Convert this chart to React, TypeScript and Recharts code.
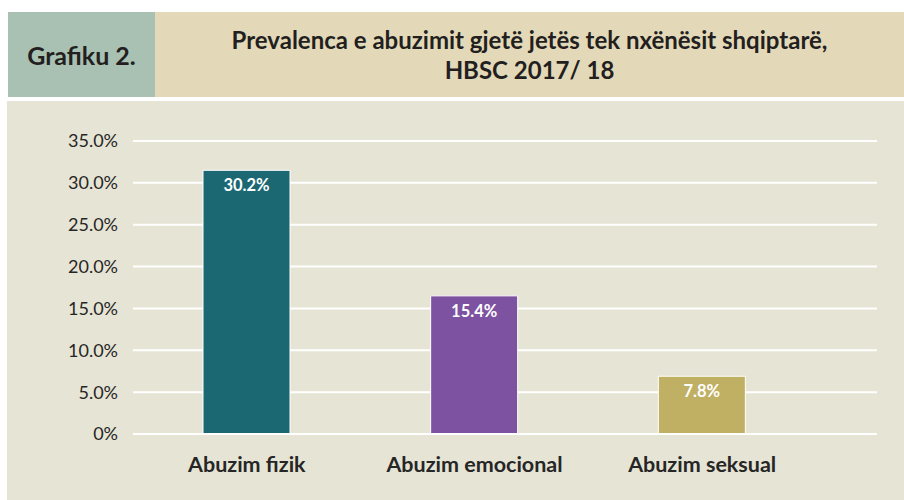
import React from 'react';
import { BarChart, Bar, XAxis, YAxis, CartesianGrid, LabelList, Cell } from 'recharts';

// categories + values
const categories = ['Abuzim fizik', 'Abuzim emocional', 'Abuzim seksual'];
const labelValues = [30.2, 15.4, 7.8];
// the source draws its bars a little off their own labels, so heights are measured separately
const drawnValues = [31.5, 16.5, 6.9];
const barColors = ['#1b6872', '#7d52a0', '#bfb064'];
const yTicks = [0, 5, 10, 15, 20, 25, 30, 35];

const data = categories.map((name, i) => ({ name, value: drawnValues[i], label: labelValues[i] }));

const FONT = 'Lato, "Open Sans", sans-serif';

export default function App() {
  return (
    <div style={{ position: 'absolute', left: 0, top: 0, width: 904, height: 500, background: '#fff', fontFamily: FONT }}>
      {/* header */}
      <div style={{ position: 'absolute', left: 8, top: 12, width: 147, height: 85, background: '#a8c1b3', display: 'flex', alignItems: 'center', justifyContent: 'center' }}>
        <span style={{ fontWeight: 700, fontSize: 25, color: '#231f20' }}>Grafiku 2.</span>
      </div>
      <div style={{ position: 'absolute', left: 155, top: 12, width: 749, height: 85, background: '#e3d9b9', display: 'flex', alignItems: 'center', justifyContent: 'center', textAlign: 'center' }}>
        <div style={{ fontWeight: 700, fontSize: 24, lineHeight: '30px', color: '#231f20' }}>
          Prevalenca e abuzimit gjetë jetës tek nxënësit shqiptarë,<br />HBSC 2017/ 18
        </div>
      </div>

      {/* chart panel */}
      <div style={{ position: 'absolute', left: 7, top: 101, width: 897, height: 399, background: '#e6e4d4' }}>
        <BarChart width={897} height={399} data={data} margin={{ top: 40, right: 27, left: 0, bottom: 26 }}>
          <CartesianGrid vertical={false} stroke="#ffffff" strokeWidth={2} />
          <XAxis
            dataKey="name"
            axisLine={{ stroke: '#ffffff', strokeWidth: 2 }}
            tickLine={false}
            tickMargin={17}
            height={40}
            padding={{ left: 0, right: 61 }}
            tick={{ fontSize: 21.5, fontWeight: 700, fill: '#262626', fontFamily: FONT }}
          />
          <YAxis
            width={126}
            domain={[0, 35]}
            ticks={yTicks}
            axisLine={false}
            tickLine={false}
            tickMargin={9}
            tick={{ fontSize: 18, fill: '#262626', fontFamily: FONT }}
            tickFormatter={(v: number) => (v === 0 ? '0%' : v.toFixed(1) + '%')}
          />
          <Bar dataKey="value" barSize={87} stroke="#ffffff" strokeWidth={1} isAnimationActive={false}>
            {data.map((d, i) => (
              <Cell key={d.name} fill={barColors[i]} />
            ))}
            <LabelList
              dataKey="label"
              position="insideTop"
              offset={9}
              formatter={(v: any) => Number(v).toFixed(1) + '%'}
              style={{ fill: '#ffffff', fontSize: 16.5, fontWeight: 700, fontFamily: FONT }}
            />
          </Bar>
        </BarChart>
      </div>
    </div>
  );
}
